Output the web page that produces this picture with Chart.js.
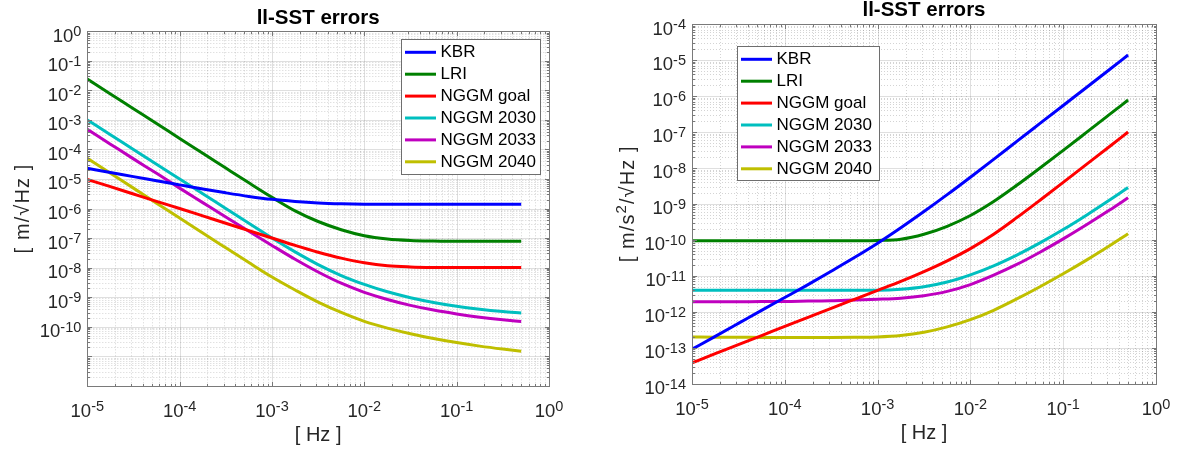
<!DOCTYPE html>
<html>
<head>
<meta charset="utf-8">
<title>ll-SST errors</title>
<script src="https://cdn.jsdelivr.net/npm/chart.js@4.4.1/dist/chart.umd.min.js"></script>
<style>
  html, body { margin: 0; padding: 0; background: #ffffff; }
  #wrap { position: relative; width: 1179px; height: 450px; overflow: hidden; }
  #rangeChart { position: absolute; left: 0; top: 0; }
  #accChart { position: absolute; left: 590px; top: 0; }
</style>
</head>
<body>
<div id="wrap">
  <canvas id="rangeChart" width="590" height="450" style="width:590px;height:450px"></canvas>
  <canvas id="accChart" width="589" height="450" style="width:589px;height:450px"></canvas>
</div>
<script>
// Frequency grid shared by all curves [Hz]
const freq = [1e-5, 1.78e-5, 3.16e-5, 5.62e-5, 1e-4, 1.78e-4, 3.16e-4, 5.62e-4,
              1e-3, 1.78e-3, 3.16e-3, 5.62e-3, 1e-2, 1.78e-2, 3.16e-2, 5.62e-2,
              0.1, 0.178, 0.316, 0.5];

// Ranging errors [m/sqrt(Hz)]
const kbrRange   = [2.29e-5, 1.66e-5, 1.20e-5, 8.71e-6, 6.31e-6, 4.57e-6, 3.39e-6, 2.57e-6,
                    2.04e-6, 1.74e-6, 1.55e-6, 1.45e-6, 1.40e-6, 1.38e-6, 1.38e-6, 1.38e-6,
                    1.38e-6, 1.38e-6, 1.38e-6, 1.38e-6];
const lriRange   = [2.40e-2, 7.59e-3, 2.40e-3, 7.59e-4, 2.34e-4, 7.41e-5, 2.34e-5, 7.41e-6,
                    2.40e-6, 8.32e-7, 3.63e-7, 1.91e-7, 1.20e-7, 9.33e-8, 8.32e-8, 7.94e-8,
                    7.76e-8, 7.76e-8, 7.76e-8, 7.76e-8];
const goalRange  = [9.55e-6, 5.50e-6, 3.09e-6, 1.74e-6, 1.00e-6, 5.62e-7, 3.16e-7, 1.78e-7,
                    1.00e-7, 5.62e-8, 3.31e-8, 2.09e-8, 1.45e-8, 1.15e-8, 1.05e-8, 1.01e-8,
                    1.00e-8, 1.00e-8, 1.00e-8, 1.00e-8];
const n2030Range = [1.00e-3, 3.16e-4, 1.00e-4, 3.16e-5, 1.00e-5, 3.16e-6, 1.00e-6, 3.16e-7,
                    1.00e-7, 3.39e-8, 1.26e-8, 5.37e-9, 2.69e-9, 1.51e-9, 9.55e-10, 6.61e-10,
                    4.90e-10, 3.89e-10, 3.24e-10, 2.88e-10];
const n2033Range = [4.79e-4, 1.51e-4, 4.79e-5, 1.55e-5, 4.90e-6, 1.58e-6, 5.13e-7, 1.70e-7,
                    5.62e-8, 1.91e-8, 7.08e-9, 2.95e-9, 1.45e-9, 8.32e-10, 5.25e-10, 3.63e-10,
                    2.69e-10, 2.09e-10, 1.70e-10, 1.48e-10];
const n2040Range = [5.01e-5, 1.55e-5, 4.90e-6, 1.51e-6, 4.79e-7, 1.48e-7, 4.68e-8, 1.48e-8,
                    4.79e-9, 1.74e-9, 6.76e-10, 3.02e-10, 1.51e-10, 8.91e-11, 5.75e-11, 3.98e-11,
                    2.88e-11, 2.19e-11, 1.74e-11, 1.48e-11];

// Acceleration errors [m/s^2/sqrt(Hz)]
const kbrAcc   = [9.04e-14, 2.07e-13, 4.74e-13, 1.09e-12, 2.49e-12, 5.70e-12, 1.34e-11, 3.21e-11,
                  8.05e-11, 2.17e-10, 6.11e-10, 1.80e-9, 5.51e-9, 1.72e-8, 5.44e-8, 1.72e-7,
                  5.44e-7, 1.72e-6, 5.44e-6, 1.37e-5];
const lriAcc   = [9.46e-11, 9.46e-11, 9.46e-11, 9.46e-11, 9.40e-11, 9.40e-11, 9.40e-11, 9.45e-11,
                  9.60e-11, 1.04e-10, 1.43e-10, 2.38e-10, 4.74e-10, 1.16e-9, 3.28e-9, 9.91e-9,
                  3.06e-8, 9.68e-8, 3.06e-7, 7.69e-7];
const goalAcc  = [3.77e-14, 6.86e-14, 1.22e-13, 2.17e-13, 3.94e-13, 7.02e-13, 1.25e-12, 2.22e-12,
                  3.94e-12, 7.02e-12, 1.31e-11, 2.61e-11, 5.70e-11, 1.43e-10, 4.13e-10, 1.26e-9,
                  3.94e-9, 1.25e-8, 3.94e-8, 9.91e-8];
const n2030Acc = [3.94e-12, 3.94e-12, 3.94e-12, 3.94e-12, 3.94e-12, 3.94e-12, 3.94e-12, 3.94e-12,
                  3.96e-12, 4.23e-12, 4.97e-12, 6.70e-12, 1.06e-11, 1.89e-11, 3.77e-11, 8.24e-11,
                  1.93e-10, 4.85e-10, 1.28e-9, 2.86e-9];
const n2033Acc = [1.89e-12, 1.89e-12, 1.89e-12, 1.93e-12, 1.93e-12, 1.98e-12, 2.02e-12, 2.12e-12,
                  2.22e-12, 2.38e-12, 2.79e-12, 3.68e-12, 5.70e-12, 1.04e-11, 2.07e-11, 4.53e-11,
                  1.06e-10, 2.61e-10, 6.70e-10, 1.47e-9];
const n2040Acc = [1.98e-13, 1.96e-13, 1.95e-13, 1.94e-13, 1.93e-13, 1.93e-13, 1.94e-13, 1.96e-13,
                  2.00e-13, 2.19e-13, 2.69e-13, 3.80e-13, 6.03e-13, 1.10e-12, 2.27e-12, 4.97e-12,
                  1.14e-11, 2.73e-11, 6.85e-11, 1.47e-10];

// Series labels and colours
const seriesNames  = ['KBR', 'LRI', 'NGGM goal', 'NGGM 2030', 'NGGM 2033', 'NGGM 2040'];
const seriesColors = ['#0000ff', '#008000', '#ff0000', '#00bfbf', '#bf00bf', '#bfbf00'];

// Decade exponents that carry a tick label
const freqTickExps  = [-5, -4, -3, -2, -1, 0];
const rangeTickExps = [-10, -9, -8, -7, -6, -5, -4, -3, -2, -1, 0];
const accTickExps   = [-14, -13, -12, -11, -10, -9, -8, -7, -6, -5, -4];

const titleText = 'll-SST errors';
const freqTitle = '[ Hz ]';

const FONT = '"Liberation Sans", Arial, Helvetica, sans-serif';
const INK = '#262626';

// Draw a run of text pieces, some of them as superscripts
function drawRich(ctx, parts, x, y, align, base, sup, raise, weight, spacing) {
  const w = weight ? weight + ' ' : '';
  const sp = spacing || 0;
  if ('letterSpacing' in ctx) ctx.letterSpacing = sp + 'px';
  let total = 0;
  const widths = parts.map(p => {
    ctx.font = w + (p.sup ? sup : base) + 'px ' + FONT;
    const m = ctx.measureText(p.t).width;
    total += m;
    return m;
  });
  let cx = align === 'right' ? x - total : (align === 'center' ? x - total / 2 : x);
  parts.forEach((p, i) => {
    ctx.font = w + (p.sup ? sup : base) + 'px ' + FONT;
    ctx.fillText(p.t, cx, p.sup ? y - raise : y);
    cx += widths[i];
  });
  if ('letterSpacing' in ctx) ctx.letterSpacing = '0px';
}

function powLabel(e) {
  return [{ t: '10' }, { t: String(e), sup: true }];
}

function hLine(ctx, x1, x2, y) { ctx.beginPath(); ctx.moveTo(x1, y); ctx.lineTo(x2, y); ctx.stroke(); }
function vLine(ctx, x, y1, y2) { ctx.beginPath(); ctx.moveTo(x, y1); ctx.lineTo(x, y2); ctx.stroke(); }

// MATLAB-style axes: grid, box, inward ticks, labels, title and legend
const matlabAxes = {
  id: 'matlabAxes',
  beforeDatasetsDraw(chart, args, o) {
    const { ctx, chartArea: a } = chart;
    const xs = chart.scales.x, ys = chart.scales.y;
    ctx.save();
    ctx.lineWidth = 1;
    // minor grid (dotted)
    ctx.strokeStyle = 'rgba(38,38,38,0.2)';
    ctx.setLineDash([1, 2]);
    for (let e = o.xRange[0]; e < o.xRange[1]; e++) {
      for (let m = 2; m < 10; m++) {
        const px = Math.round(xs.getPixelForValue(m * Math.pow(10, e))) + 0.5;
        vLine(ctx, px, a.top, a.bottom);
      }
    }
    for (let e = o.yRange[0]; e < o.yRange[1]; e++) {
      for (let m = 2; m < 10; m++) {
        const py = Math.round(ys.getPixelForValue(m * Math.pow(10, e))) + 0.5;
        hLine(ctx, a.left, a.right, py);
      }
    }
    // major grid (solid)
    ctx.setLineDash([]);
    ctx.strokeStyle = 'rgba(38,38,38,0.15)';
    for (let e = o.xRange[0]; e <= o.xRange[1]; e++) {
      const px = Math.round(xs.getPixelForValue(Math.pow(10, e))) + 0.5;
      vLine(ctx, px, a.top, a.bottom);
    }
    for (let e = o.yRange[0]; e <= o.yRange[1]; e++) {
      const py = Math.round(ys.getPixelForValue(Math.pow(10, e))) + 0.5;
      hLine(ctx, a.left, a.right, py);
    }
    ctx.restore();
  },
  afterDatasetsDraw(chart, args, o) {
    const { ctx, chartArea: a } = chart;
    const xs = chart.scales.x, ys = chart.scales.y;
    const L = Math.round(a.left) + 0.5, R = Math.round(a.right) + 0.5;
    const T = Math.round(a.top) + 0.5, B = Math.round(a.bottom) + 0.5;
    ctx.save();
    // inward tick marks on all four sides
    ctx.strokeStyle = '#777777';
    ctx.lineWidth = 1;
    for (let e = o.xRange[0]; e <= o.xRange[1]; e++) {
      for (let m = 1; m < 10; m++) {
        if (e === o.xRange[1] && m > 1) break;
        const len = m === 1 ? 4.5 : 2.5;
        const px = Math.round(xs.getPixelForValue(m * Math.pow(10, e))) + 0.5;
        vLine(ctx, px, B, B - len);
        vLine(ctx, px, T, T + len);
      }
    }
    for (let e = o.yRange[0]; e <= o.yRange[1]; e++) {
      for (let m = 1; m < 10; m++) {
        if (e === o.yRange[1] && m > 1) break;
        const len = m === 1 ? 4.5 : 2.5;
        const py = Math.round(ys.getPixelForValue(m * Math.pow(10, e))) + 0.5;
        hLine(ctx, L, L + len, py);
        hLine(ctx, R, R - len, py);
      }
    }
    // axes box
    ctx.strokeStyle = '#7a7a7a';
    ctx.strokeRect(L, T, R - L, B - T);

    // tick labels
    ctx.fillStyle = INK;
    ctx.textBaseline = 'alphabetic';
    o.xTicks.forEach(e => {
      const px = xs.getPixelForValue(Math.pow(10, e));
      drawRich(ctx, powLabel(e), px, a.bottom + 31, 'center', 18.5, 14.5, 5.5);
    });
    o.yTicks.forEach(e => {
      const py = ys.getPixelForValue(Math.pow(10, e));
      drawRich(ctx, powLabel(e), a.left - 6, py + 10.5, 'right', 18.5, 14.5, 5.5);
    });

    // axis titles
    const cx = (a.left + a.right) / 2;
    drawRich(ctx, [{ t: freqTitle }], cx, a.bottom + 55.5, 'center', 20, 14, 7);
    ctx.save();
    ctx.translate(a.left - 58.5, (a.top + a.bottom) / 2);
    ctx.rotate(-Math.PI / 2);
    drawRich(ctx, o.yTitle, 0, 0, 'center', 20, 15, 8, null, 1.1);
    ctx.restore();

    // title
    ctx.fillStyle = '#000000';
    drawRich(ctx, [{ t: titleText }], cx, a.top - 7.8, 'center', 20.5, 14, 6, 'bold');

    // legend
    const lg = o.legend;
    ctx.fillStyle = '#ffffff';
    ctx.fillRect(lg.x, lg.y, lg.w, lg.h);
    ctx.strokeStyle = '#6e6e6e';
    ctx.lineWidth = 1;
    ctx.strokeRect(Math.round(lg.x) + 0.5, Math.round(lg.y) + 0.5, lg.w, lg.h);
    ctx.textBaseline = 'middle';
    ctx.font = '17px ' + FONT;
    chart.data.datasets.forEach((ds, i) => {
      const ry = lg.y + 13.3 + i * 21.9;
      ctx.strokeStyle = ds.borderColor;
      ctx.lineWidth = 3;
      hLine(ctx, lg.x + 4, lg.x + 35, ry);
      ctx.fillStyle = '#000000';
      ctx.fillText(ds.label, lg.x + 39.5, ry + 0.5);
    });
    ctx.restore();
  }
};

function buildDatasets(seriesList) {
  return seriesList.map((vals, i) => ({
    label: seriesNames[i],
    data: freq.map((f, k) => ({ x: f, y: vals[k] })),
    borderColor: seriesColors[i],
    backgroundColor: seriesColors[i],
    borderWidth: 3,
    pointRadius: 0,
    fill: false,
    cubicInterpolationMode: 'monotone'
  }));
}

function makeChart(id, seriesList, yMin, yMax, padding, axesOpts) {
  return new Chart(document.getElementById(id), {
    type: 'line',
    data: { datasets: buildDatasets(seriesList) },
    options: {
      responsive: false,
      animation: false,
      events: [],
      layout: { padding: padding },
      plugins: {
        legend: { display: false },
        title: { display: false },
        tooltip: { enabled: false },
        matlabAxes: axesOpts
      },
      scales: {
        x: {
          type: 'logarithmic', min: 1e-5, max: 1,
          ticks: { display: false }, grid: { display: false }, border: { display: false },
          afterFit(s) { s.height = 0; }
        },
        y: {
          type: 'logarithmic', min: yMin, max: yMax,
          ticks: { display: false }, grid: { display: false }, border: { display: false },
          afterFit(s) { s.width = 0; }
        }
      }
    },
    plugins: [matlabAxes]
  });
}

makeChart('rangeChart',
  [kbrRange, lriRange, goalRange, n2030Range, n2033Range, n2040Range],
  1e-12, 1,
  { left: 87.3, top: 31.3, right: 41, bottom: 64.3 },
  {
    xRange: [-5, 0], yRange: [-12, 0],
    xTicks: freqTickExps, yTicks: rangeTickExps,
    yTitle: [{ t: '[ m/\u221AHz ]' }],
    legend: { x: 401, y: 39, w: 139, h: 135 }
  });

makeChart('accChart',
  [kbrAcc, lriAcc, goalAcc, n2030Acc, n2033Acc, n2040Acc],
  1e-14, 1e-4,
  { left: 102, top: 24, right: 23, bottom: 66.3 },
  {
    xRange: [-5, 0], yRange: [-14, -4],
    xTicks: freqTickExps, yTicks: accTickExps,
    yTitle: [{ t: '[ m/s' }, { t: '2', sup: true }, { t: '/\u221AHz ]' }],
    legend: { x: 147, y: 46, w: 142, h: 134 }
  });
</script>
</body>
</html>
